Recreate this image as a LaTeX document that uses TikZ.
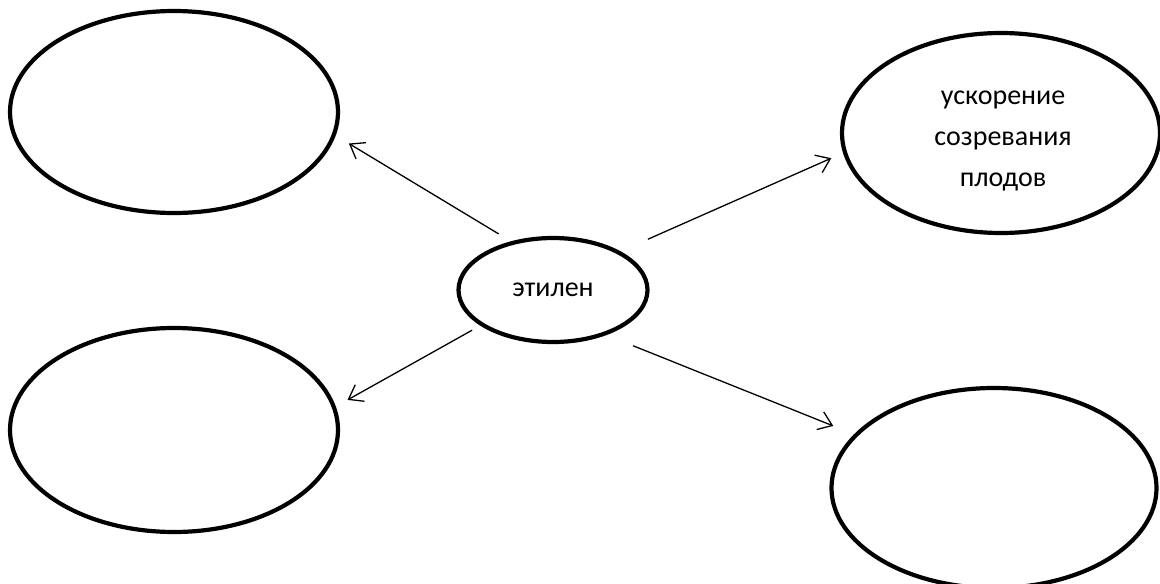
\documentclass[tikz,border=0pt]{standalone}
\usepackage{fontspec}
\setmainfont{Carlito}
\usetikzlibrary{shapes.geometric,arrows.meta}
\begin{document}
\begin{tikzpicture}[x=1pt,y=-1pt,
  bubble/.style={ellipse, draw=black, line width=4.2pt, inner sep=0pt, outer sep=0pt,
    font=\fontsize{28}{41}\selectfont, align=center},
  caption/.style={inner sep=0pt, font=\fontsize{28}{41}\selectfont, align=center},
  link/.style={draw=black, line width=1.3pt, -{Straight Barb[length=13pt,width=19pt]}}
]
\useasboundingbox (0,0) rectangle (1160,584);
\node[bubble, minimum width=328pt, minimum height=202pt] (tl) at (174,112) {};
\node[bubble, minimum width=328pt, minimum height=204pt] (bl) at (174,430) {};
\node[bubble, minimum width=318pt, minimum height=200pt] (tr) at (1001,133) {};
\node[caption] (trtext) at (1003,141) {ускорение\\созревания\\плодов};
\node[bubble, minimum width=325pt, minimum height=200pt] (br) at (994,488) {};
\node[bubble, minimum width=189pt, minimum height=104pt] (c) at (553,290) {этилен};
\draw[link, shorten <=17.2pt, shorten >=17.5pt] (c.130.6) -- (tl.-8.1);
\draw[link, shorten <=11.6pt, shorten >=15.6pt] (c.206) -- (bl.8.7);
\draw[link, shorten <=32.5pt, shorten >=14.9pt] (c.30.8) -- (tr.187.7);
\draw[link, shorten <=31.9pt, shorten >=24.6pt] (c.-41.1) -- (br.159.6);
\end{tikzpicture}
\end{document}
